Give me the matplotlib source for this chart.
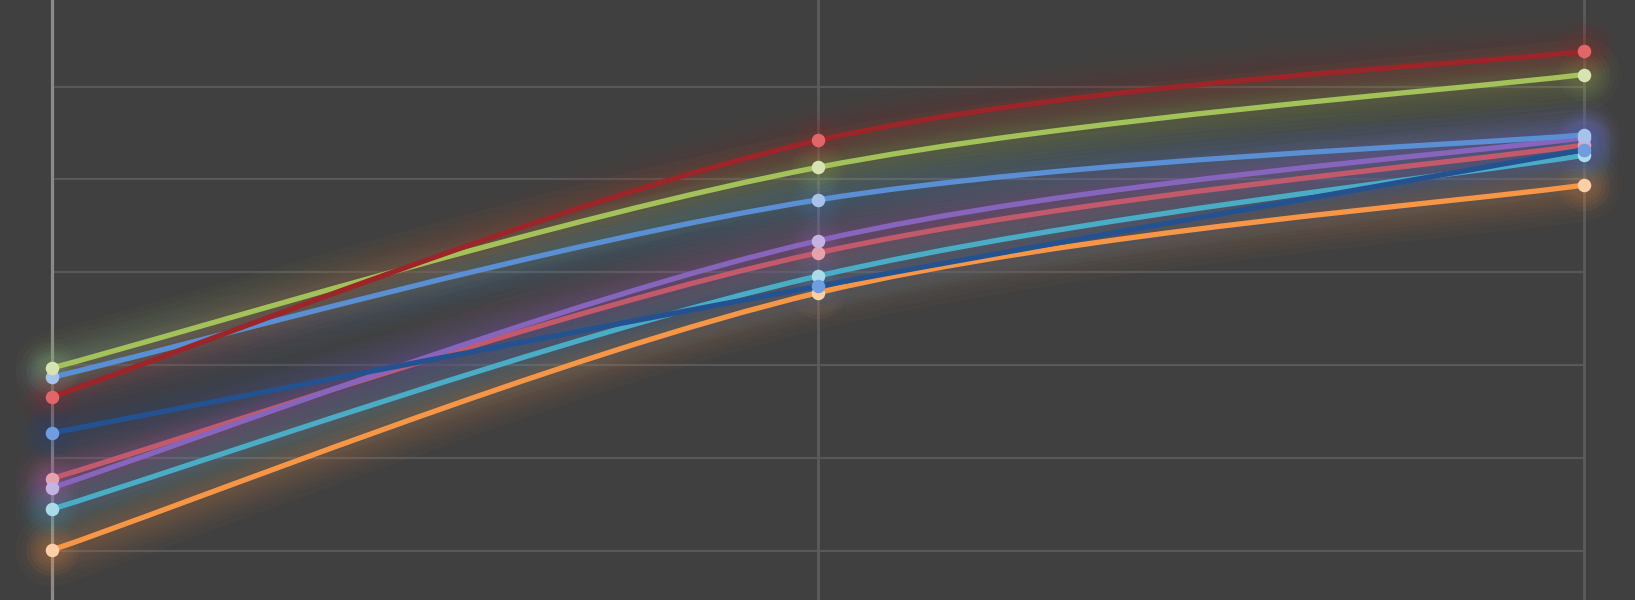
import matplotlib
matplotlib.use("Agg")
import matplotlib.pyplot as plt
from matplotlib.path import Path
from matplotlib.patches import PathPatch

# ---- data ----
categories = [0, 1, 2]
red = [26.6, 54.2, 63.8]
green = [29.7, 51.3, 61.3]
light_blue = [28.7, 47.8, 54.8]
dark_blue = [22.7, 38.5, 53.2]
pink = [17.8, 42.1, 53.7]
purple = [16.8, 43.4, 54.5]
cyan = [14.5, 39.6, 52.6]
orange = [10.1, 37.8, 49.4]
grid_values = [10, 20, 30, 40, 50, 60]

# ---- styles: (values, line colour, marker colour) ----
series = [
    (orange, "#f79646", "#fdcfa6"),
    (cyan, "#4bacc6", "#a9dbe9"),
    (pink, "#c25a6c", "#e4a2ac"),
    (purple, "#8765bd", "#c3b2e2"),
    (light_blue, "#5a8fd3", "#a7c3ea"),
    (green, "#a3c25a", "#d7e4b2"),
    (red, "#9c2529", "#e06669"),
    (dark_blue, "#245290", "#6f9de0"),
]

BG = "#404040"
W, H = 1635, 600
fig = plt.figure(figsize=(W / 100, H / 100), dpi=100, facecolor=BG)
x_left, x_right = 51.5, 1584
ax = fig.add_axes([x_left / W, 0, (x_right - x_left) / W, 1])
ax.set_facecolor(BG)
ax.set_xlim(0, 2)
ax.set_ylim(4.73, 69.32)
for s in ax.spines.values():
    s.set_visible(False)
ax.set_xticks([])
ax.set_yticks([])

for g in grid_values:
    ax.axhline(g, color="#585858", lw=1.6, zorder=1)
ax.axvline(0, color="#8a8a8a", lw=2.3, zorder=1.5, clip_on=False)
for xv in categories[1:]:
    ax.axvline(xv, color="#5b5b5b", lw=2.0, zorder=1.5, clip_on=False)


def smooth_path(xs, ys):
    pts = list(zip(xs, ys))
    n = len(pts)
    verts = [pts[0]]
    codes = [Path.MOVETO]
    for i in range(n - 1):
        p0 = pts[i - 1] if i > 0 else pts[i]
        p1 = pts[i]
        p2 = pts[i + 1]
        p3 = pts[i + 2] if i + 2 < n else pts[i + 1]
        c1 = (p1[0] + (p2[0] - p0[0]) / 6, p1[1] + (p2[1] - p0[1]) / 6)
        c2 = (p2[0] - (p3[0] - p1[0]) / 6, p2[1] - (p3[1] - p1[1]) / 6)
        verts += [c1, c2, p2]
        codes += [Path.CURVE4] * 3
    return Path(verts, codes)


# glow layers
for vals, lc, mc in series:
    path = smooth_path(categories, vals)
    for w in [52, 44, 37, 31, 25, 20, 15, 11]:
        ax.add_patch(PathPatch(path, fill=False, edgecolor=lc, lw=w, alpha=0.03,
                               capstyle="round", joinstyle="round", zorder=2, clip_on=False))
    for s in [1400, 950, 620, 380]:
        ax.scatter(categories, vals, s=s, color=lc, alpha=0.045, lw=0, zorder=2, clip_on=False)

# lines and markers
for k, (vals, lc, mc) in enumerate(series):
    path = smooth_path(categories, vals)
    ax.add_patch(PathPatch(path, fill=False, edgecolor=lc, lw=3.8,
                           capstyle="round", joinstyle="round", zorder=3 + k * 0.01, clip_on=False))
for k, (vals, lc, mc) in enumerate(series):
    ax.scatter(categories, vals, s=95, color=mc, lw=0, zorder=4 + k * 0.01, clip_on=False)

fig.savefig("out.png", dpi=100, facecolor=BG)
